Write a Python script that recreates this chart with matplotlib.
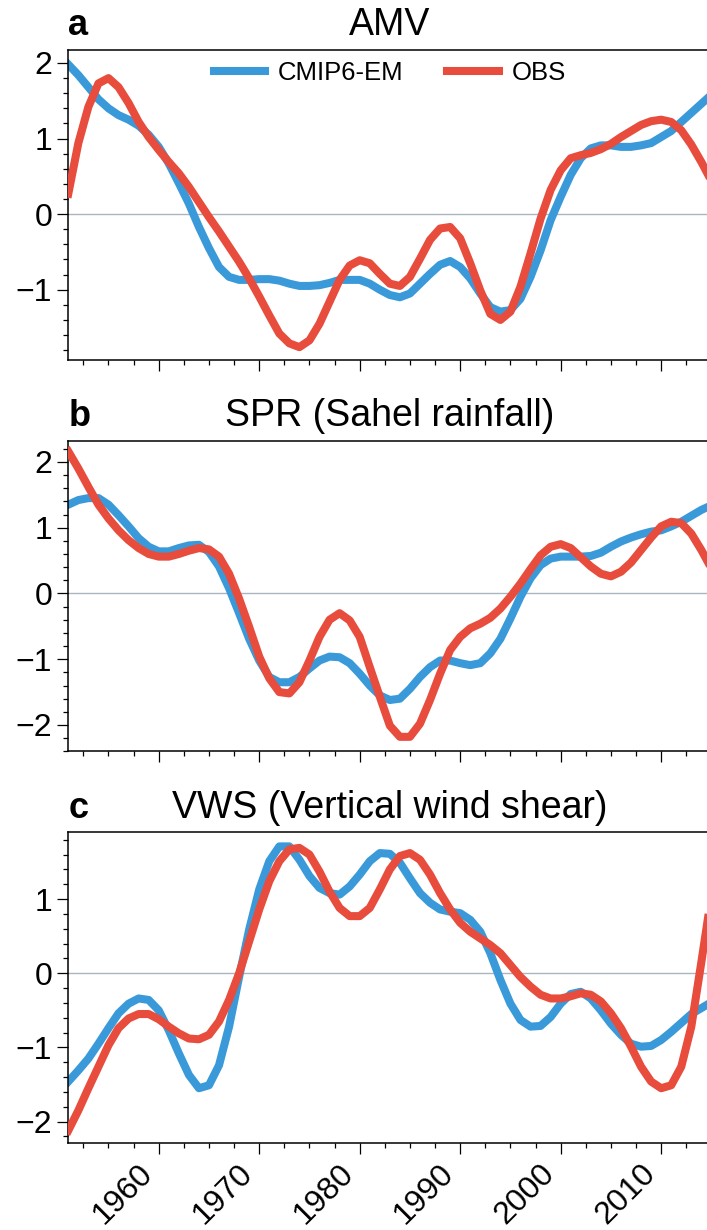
import numpy as np
import matplotlib
matplotlib.use("Agg")
import matplotlib.pyplot as plt
from matplotlib.ticker import MultipleLocator

plt.rcParams['font.family'] = ['Liberation Sans', 'DejaVu Sans']

years = np.arange(1951, 2016)

amv_model = [1.98, 1.84, 1.68, 1.52, 1.40, 1.31, 1.25, 1.17, 1.05, 0.89,
             0.67, 0.41, 0.14, -0.17, -0.45, -0.70, -0.83, -0.87, -0.87, -0.86,
             -0.86, -0.88, -0.92, -0.95, -0.95, -0.94, -0.91, -0.87, -0.87, -0.87,
             -0.92, -1.00, -1.07, -1.10, -1.05, -0.92, -0.79, -0.67, -0.62, -0.70,
             -0.85, -1.05, -1.23, -1.29, -1.27, -1.12, -0.83, -0.48, -0.08, 0.23,
             0.52, 0.74, 0.87, 0.91, 0.91, 0.89, 0.89, 0.91, 0.94, 1.02,
             1.10, 1.22, 1.34, 1.46, 1.58]
amv_obs = [0.27, 0.94, 1.42, 1.73, 1.80, 1.68, 1.47, 1.22, 1.02, 0.85,
           0.69, 0.54, 0.36, 0.16, -0.04, -0.23, -0.43, -0.63, -0.85, -1.09,
           -1.34, -1.58, -1.71, -1.76, -1.67, -1.45, -1.16, -0.87, -0.68, -0.61,
           -0.65, -0.79, -0.92, -0.95, -0.83, -0.59, -0.34, -0.19, -0.17, -0.32,
           -0.65, -1.01, -1.32, -1.40, -1.29, -0.96, -0.52, -0.06, 0.32, 0.58,
           0.74, 0.78, 0.81, 0.86, 0.93, 1.02, 1.10, 1.18, 1.23, 1.25,
           1.22, 1.11, 0.92, 0.69, 0.44]

spr_model = [1.35, 1.42, 1.45, 1.45, 1.35, 1.19, 1.02, 0.84, 0.71, 0.64,
             0.64, 0.69, 0.73, 0.74, 0.63, 0.41, 0.08, -0.30, -0.69, -1.02,
             -1.27, -1.35, -1.35, -1.27, -1.14, -1.02, -0.96, -0.97, -1.06, -1.22,
             -1.40, -1.55, -1.62, -1.60, -1.45, -1.27, -1.12, -1.02, -1.02, -1.06,
             -1.09, -1.06, -0.91, -0.69, -0.38, -0.05, 0.23, 0.43, 0.53, 0.56,
             0.56, 0.56, 0.57, 0.62, 0.71, 0.79, 0.85, 0.90, 0.94, 0.96,
             1.02, 1.09, 1.18, 1.27, 1.34]
spr_obs = [2.16, 1.90, 1.62, 1.35, 1.14, 0.96, 0.81, 0.69, 0.60, 0.56,
           0.56, 0.60, 0.65, 0.69, 0.67, 0.56, 0.30, -0.08, -0.51, -0.96,
           -1.29, -1.50, -1.52, -1.35, -1.02, -0.66, -0.40, -0.30, -0.41, -0.66,
           -1.12, -1.57, -2.01, -2.18, -2.18, -1.98, -1.62, -1.22, -0.86, -0.66,
           -0.53, -0.46, -0.37, -0.23, -0.05, 0.15, 0.37, 0.58, 0.71, 0.75,
           0.69, 0.55, 0.41, 0.30, 0.26, 0.33, 0.47, 0.66, 0.85, 1.02,
           1.09, 1.07, 0.91, 0.66, 0.38]

vws_model = [-1.46, -1.31, -1.15, -0.95, -0.74, -0.54, -0.41, -0.34, -0.36, -0.50,
             -0.77, -1.08, -1.37, -1.55, -1.51, -1.24, -0.72, -0.05, 0.59, 1.13,
             1.51, 1.71, 1.71, 1.53, 1.31, 1.15, 1.08, 1.06, 1.17, 1.33,
             1.51, 1.62, 1.61, 1.49, 1.28, 1.08, 0.95, 0.86, 0.83, 0.81,
             0.72, 0.56, 0.27, -0.09, -0.41, -0.63, -0.72, -0.71, -0.59, -0.41,
             -0.28, -0.25, -0.34, -0.50, -0.68, -0.83, -0.95, -0.99, -0.98, -0.90,
             -0.79, -0.67, -0.55, -0.47, -0.39]
vws_obs = [-2.12, -1.85, -1.55, -1.26, -0.97, -0.74, -0.61, -0.55, -0.55, -0.62,
           -0.72, -0.81, -0.88, -0.89, -0.83, -0.65, -0.36, 0.00, 0.43, 0.86,
           1.24, 1.51, 1.67, 1.69, 1.60, 1.37, 1.10, 0.88, 0.77, 0.77,
           0.88, 1.13, 1.40, 1.58, 1.62, 1.53, 1.33, 1.08, 0.86, 0.68,
           0.56, 0.47, 0.38, 0.27, 0.11, -0.05, -0.18, -0.29, -0.34, -0.34,
           -0.31, -0.27, -0.29, -0.38, -0.54, -0.74, -0.99, -1.26, -1.46, -1.55,
           -1.51, -1.26, -0.72, 0.15, 1.05]

panel_letters = ['a', 'b', 'c']
panel_titles = ['AMV', 'SPR (Sahel rainfall)', 'VWS (Vertical wind shear)']
series_labels = ['CMIP6-EM', 'OBS']
model_series = [amv_model, spr_model, vws_model]
obs_series = [amv_obs, spr_obs, vws_obs]
y_limits = [(-1.934, 2.172), (-2.40, 2.318), (-2.283, 1.90)]

model_color = '#3a9ad9'
obs_color = '#e74c3c'
zero_color = '#a9b5c1'

W, H = 707, 1230
fig = plt.figure(figsize=(W / 100, H / 100), dpi=100)

left_px, right_px = 68.3, 711.4
tops_px = [50, 441, 832.3]
height_px = 310.3

axes = []
for i in range(3):
    bottom = (H - tops_px[i] - height_px) / H
    ax = fig.add_axes([left_px / W, bottom, (right_px - left_px) / W, height_px / H])
    axes.append(ax)

for i, ax in enumerate(axes):
    ax.axhline(0, color=zero_color, lw=1.0, zorder=1)
    ax.plot(years, model_series[i], color=model_color, lw=5.8,
            label=series_labels[0], zorder=2)
    ax.plot(years, obs_series[i], color=obs_color, lw=5.8,
            label=series_labels[1], zorder=3)
    ax.set_xlim(1951, 2015)
    ax.set_ylim(*y_limits[i])
    ax.xaxis.set_major_locator(MultipleLocator(10))
    ax.xaxis.set_minor_locator(MultipleLocator(2.5))
    ax.yaxis.set_major_locator(MultipleLocator(1))
    ax.yaxis.set_minor_locator(MultipleLocator(0.2))
    ax.tick_params(which='major', direction='out', length=7.7, width=0.9,
                   labelsize=23, pad=4)
    ax.tick_params(which='minor', direction='out', length=3.8, width=0.9)
    ax.tick_params(axis='x', which='both', top=False)
    ax.tick_params(axis='y', which='both', right=False)
    for side in ['left', 'bottom', 'top', 'right']:
        ax.spines[side].set_linewidth(1.1)
    ax.set_title(panel_titles[i], fontsize=27, pad=10.5)
    ax.set_title(panel_letters[i], loc='left', fontsize=26,
                 fontweight='bold', pad=10.5)
    if i < 2:
        ax.tick_params(axis='x', labelbottom=False)
    else:
        for lab in ax.get_xticklabels():
            lab.set_rotation(45)
            lab.set_ha('right')

axes[0].legend(loc='center', bbox_to_anchor=(0.5, 1 - 23 / 310), ncol=2,
               frameon=False, fontsize=18.5, handlelength=2.0,
               handletextpad=0.5, columnspacing=1.7)

fig.savefig('out.png', dpi=100)
